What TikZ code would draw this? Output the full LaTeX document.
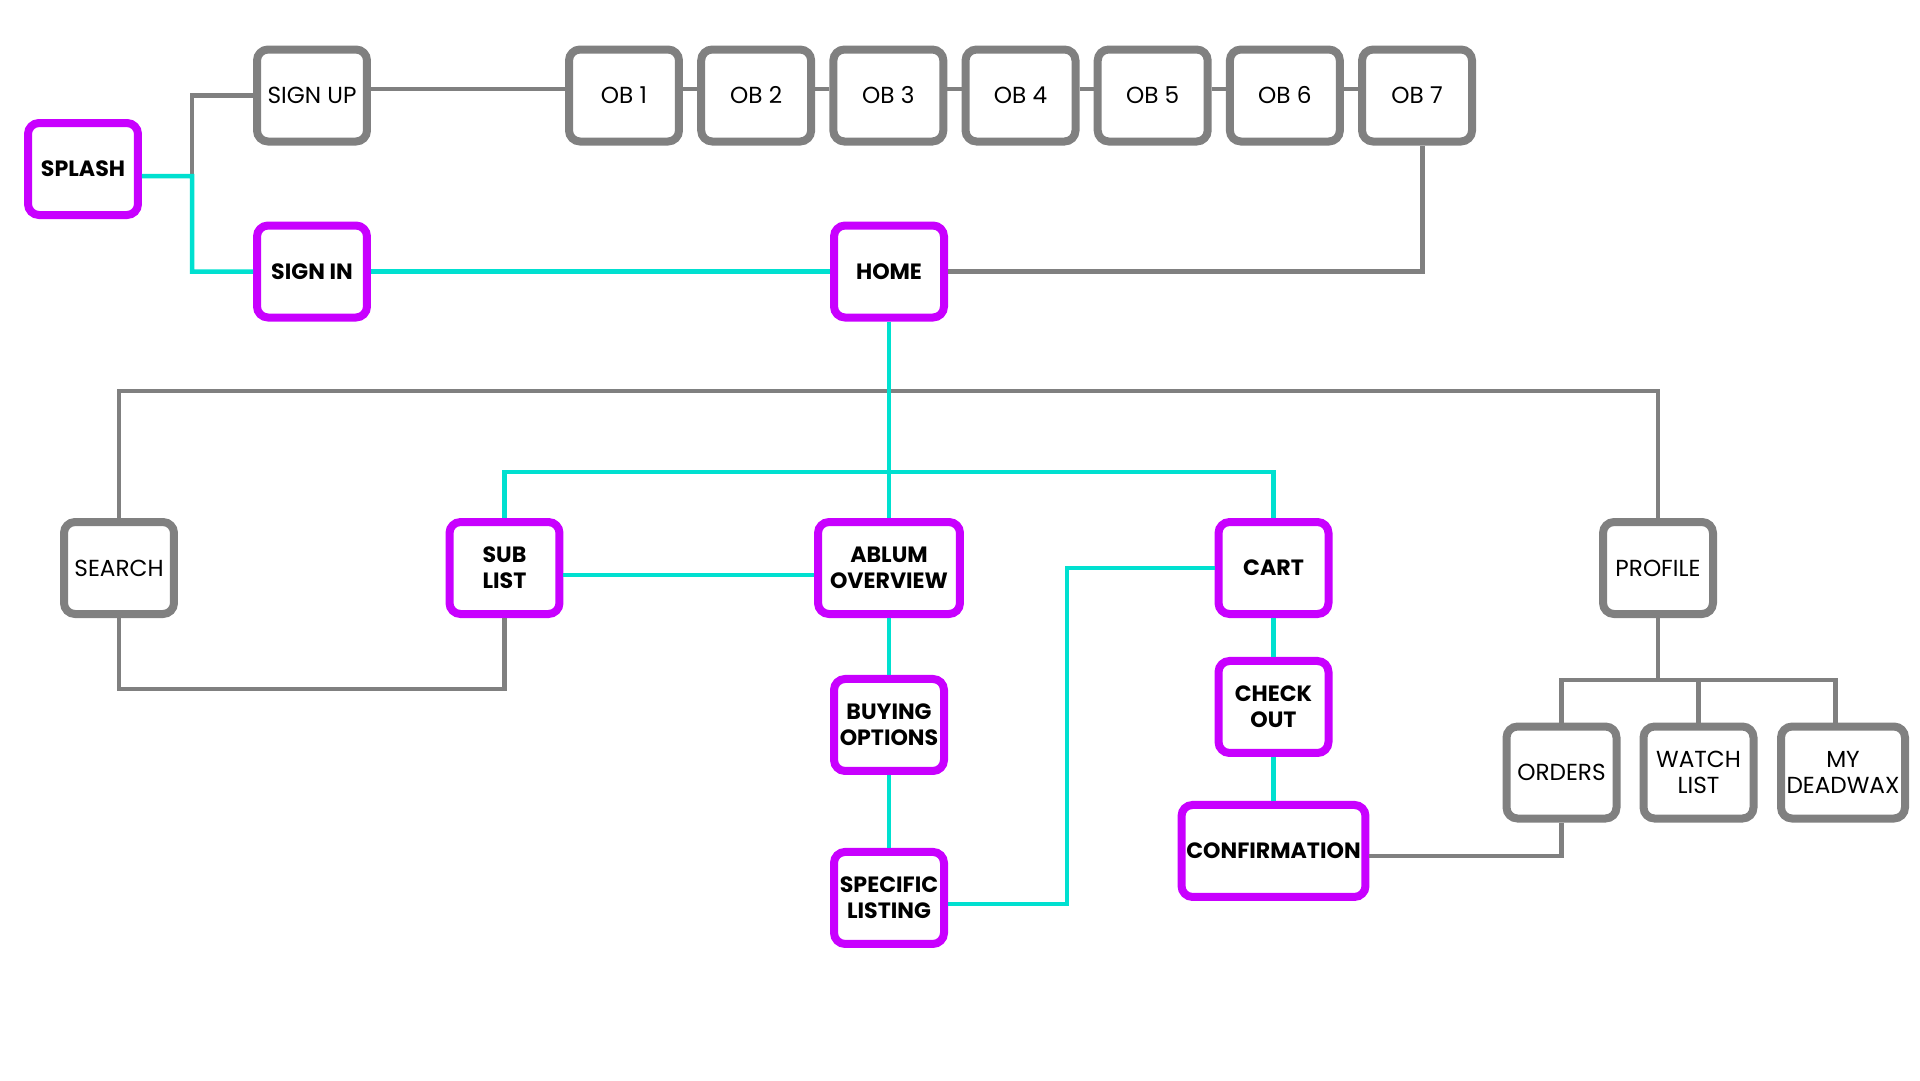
\documentclass[tikz,border=0pt]{standalone}
\usepackage{fontspec}
\setmainfont{Poppins}
\usetikzlibrary{positioning}

\definecolor{hotpurple}{RGB}{200,0,255}
\definecolor{flowcyan}{RGB}{0,224,208}
\definecolor{boxgray}{RGB}{128,128,128}

\begin{document}
\begin{tikzpicture}[x=0.02cm, y=-0.02cm,
    screen/.style={rectangle, rounded corners=0.22cm, line width=0.16cm, fill=white,
        minimum width=2.2cm, minimum height=1.84cm, inner sep=0pt, align=center,
        font=\fontsize{13.2}{15}\selectfont},
    main/.style={screen, draw=hotpurple, font=\fontsize{12.6}{15}\selectfont\bfseries},
    side/.style={screen, draw=boxgray},
    link/.style={draw=boxgray, line width=0.09cm},
    flow/.style={draw=flowcyan, line width=0.09cm}
]
\useasboundingbox (0,0) rectangle (1920,1080);

% Entry
\node[main] (splash) at (83,169) {SPLASH};
\node[side] (signup) at (312,95.5) {SIGN UP};
\node[main] (signin) at (312,271.5) {SIGN IN};

% Onboarding
\node[side] (ob1) at (624,95.5) {OB 1};
\node[side, right=0.284cm of ob1] (ob2) {OB 2};
\node[side, right=0.284cm of ob2] (ob3) {OB 3};
\node[side, right=0.284cm of ob3] (ob4) {OB 4};
\node[side, right=0.284cm of ob4] (ob5) {OB 5};
\node[side, right=0.284cm of ob5] (ob6) {OB 6};
\node[side, right=0.284cm of ob6] (ob7) {OB 7};

\node[main] (home) at (889,271.5) {HOME};

% Main sections
\node[side] (search) at (119,568) {SEARCH};
\node[main] (sublist) at (504.5,568) {SUB\\LIST};
\node[main, minimum width=2.84cm] (album) at (889,568) {ABLUM\\OVERVIEW};
\node[main] (cart) at (1273.5,568) {CART};
\node[side] (profile) at (1658,568) {PROFILE};

% Buying flow
\node[main, below=1.14cm of album] (buying) {BUYING\\OPTIONS};
\node[main, below=1.46cm of buying] (listing) {SPECIFIC\\LISTING};
\node[main, below=0.78cm of cart] (checkout) {CHECK\\OUT};
\node[main, minimum width=3.68cm, below=0.88cm of checkout] (confirm) {CONFIRMATION};

% Profile pages
\node[side] (orders) at (1561.5,772.5) {ORDERS};
\node[side] (watch) at (1698.5,772.5) {WATCH\\LIST};
\node[side, minimum width=2.48cm] (deadwax) at (1843,772.5) {MY\\DEADWAX};

% Junctions
\coordinate (split) at (192,176);
\coordinate (bar) at (889,391);
\coordinate (under) at (311,689);
\coordinate (fork) at (1658,680);
\coordinate (hub) at (889,472);
\coordinate (jog) at (1067,736);

% Grey links
\draw[link] (signup.west) -| (split);
\draw[link] ([yshift=0.13cm]signup.east) -- ([yshift=0.13cm]ob1.west);
\foreach \a/\b in {ob1/ob2, ob2/ob3, ob3/ob4, ob4/ob5, ob5/ob6, ob6/ob7}
    \draw[link] ([yshift=0.13cm]\a.east) -- ([yshift=0.13cm]\b.west);
\draw[link] ([xshift=0.11cm]ob7.south) |- (home.east);
\draw[link] (search.north) |- (bar) -| (profile.north);
\draw[link] (search.south) |- (under) -| (sublist.south);
\draw[link] (profile.south) -- (fork);
\draw[link] (orders.north) |- (fork) -| ([xshift=-0.15cm]deadwax.north);
\draw[link] (watch.north) -- (watch.north |- fork);
\draw[link] (orders.south) |- ([yshift=-0.1cm]confirm.east);

% Main flow
\draw[flow] ([yshift=-0.14cm]splash.east) -- (split) |- (signin.west);
\draw[flow] (signin) -- (home);
\draw[flow] (home) -- (album);
\draw[flow] (sublist.north) |- (hub) -| (cart.north);
\draw[flow] ([yshift=-0.14cm]sublist.east) -- ([yshift=-0.14cm]album.west);
\draw[flow] (album) -- (buying);
\draw[flow] (buying) -- (listing);
\draw[flow] ([yshift=-0.12cm]listing.east) -| (jog) |- (cart.west);
\draw[flow] (cart) -- (checkout);
\draw[flow] (checkout) -- (confirm);

\end{tikzpicture}
\end{document}
